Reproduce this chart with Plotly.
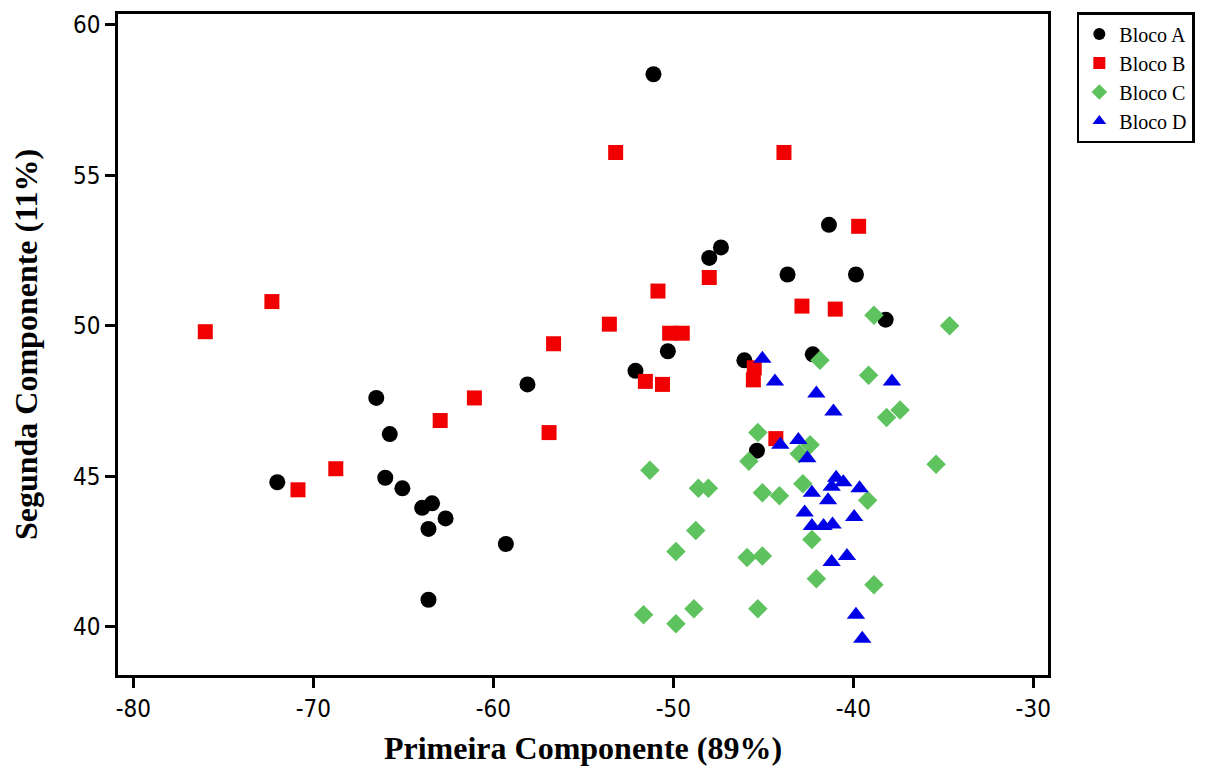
import plotly.graph_objects as go

# Bloco A (black circles)
a_x = [-51.1, -47.35, -48.0, -41.35, -43.65, -39.85, -38.2, -66.5, -65.75, -72.0, -66.0, -65.05,
       -63.95, -63.4, -62.65, -63.6, -63.6, -59.3, -58.1, -50.3, -52.1, -46.05, -45.35, -42.25]
a_y = [58.35, 52.6, 52.25, 53.35, 51.7, 51.7, 50.2, 47.6, 46.4, 44.8, 44.95, 44.6,
       43.95, 44.1, 43.6, 43.25, 40.9, 42.75, 48.05, 49.15, 48.5, 48.85, 45.85, 49.05]

# Bloco B (red squares)
b_x = [-72.3, -76.0, -53.2, -43.85, -39.7, -48.0, -50.85, -42.85, -41.0, -53.55, -50.2, -49.5,
       -56.65, -61.05, -62.95, -68.75, -70.85, -56.9, -51.55, -50.6, -45.5, -45.55, -44.3]
b_y = [50.8, 49.8, 55.75, 55.75, 53.3, 51.6, 51.15, 50.65, 50.55, 50.05, 49.75, 49.75,
       49.4, 47.6, 46.85, 45.25, 44.55, 46.45, 48.15, 48.05, 48.6, 48.2, 46.25]

# Bloco C (green diamonds)
c_x = [-38.85, -34.65, -45.3, -45.8, -51.3, -48.6, -48.05, -45.05, -44.1, -48.75, -49.85, -45.9,
       -45.05, -51.65, -49.85, -48.85, -45.3, -41.85, -39.15, -38.15, -37.4, -35.4, -42.4, -43.0,
       -42.8, -39.2, -42.3, -42.05, -38.85]
c_y = [50.35, 50.0, 46.45, 45.5, 45.2, 44.6, 44.6, 44.45, 44.35, 43.2, 42.5, 42.3,
       42.35, 40.4, 40.1, 40.6, 40.6, 48.85, 48.35, 46.95, 47.2, 45.4, 46.05, 45.75,
       44.75, 44.2, 42.9, 41.6, 41.4]

# Bloco D (blue triangles)
d_x = [-45.05, -44.35, -37.85, -42.05, -41.1, -44.05, -43.05, -42.55, -40.95, -40.55, -41.2, -39.65,
       -42.3, -41.4, -42.7, -39.95, -42.3, -41.65, -41.15, -40.35, -41.2, -39.85, -39.5]
d_y = [48.9, 48.15, 48.15, 47.75, 47.15, 46.05, 46.2, 45.6, 44.95, 44.8, 44.65, 44.6,
       44.45, 44.2, 43.8, 43.65, 43.35, 43.35, 43.4, 42.35, 42.15, 40.4, 39.6]

x_ticks = [-80, -70, -60, -50, -40, -30]
x_tick_text = ["-80", "-70", "-60", "-50", "-40", "-30"]
y_ticks = [40, 45, 50, 55, 60]
y_tick_text = ["40", "45", "50", "55", "60"]

series = [
    ("Bloco A", a_x, a_y, "circle", "#000000", 16),
    ("Bloco B", b_x, b_y, "square", "#F00000", 15),
    ("Bloco C", c_x, c_y, "diamond", "#5EC25E", 15),
    ("Bloco D", d_x, d_y, "triangle-up", "#0000E6", 16),
]

fig = go.Figure()
for name, xs, ys, sym, col, sz in series:
    fig.add_trace(go.Scatter(
        x=xs, y=ys, mode="markers", name=name,
        marker=dict(symbol=sym, color=col, size=sz, line=dict(width=0)),
    ))

tick_font = dict(family="Liberation Sans Narrow, DejaVu Sans Condensed, Arial Narrow, sans-serif",
                 size=24, color="#000000")
title_font = dict(family="Liberation Serif, Times New Roman, serif", size=32, color="#000000")

fig.update_layout(
    width=1224, height=778,
    margin=dict(l=118, r=176, t=12, b=103),
    paper_bgcolor="white", plot_bgcolor="white",
    showlegend=True,
    legend=dict(
        x=1.031, y=1.003, xanchor="left", yanchor="top",
        bordercolor="#000000", borderwidth=2.5, bgcolor="white",
        font=dict(family="Liberation Serif, Times New Roman, serif", size=20, color="#000000"),
        itemsizing="constant",
    ),
    xaxis=dict(
        range=[-80.85, -29.18], tickvals=x_ticks, ticktext=x_tick_text,
        showgrid=False, zeroline=False,
        showline=True, linecolor="#000000", linewidth=2.5, mirror=True,
        ticks="outside", ticklen=10, tickwidth=2.5, tickcolor="#000000",
        tickfont=tick_font,
        title=dict(text="<b>Primeira Componente (89%)</b>", font=title_font, standoff=16),
    ),
    yaxis=dict(
        range=[38.40, 60.35], tickvals=y_ticks, ticktext=y_tick_text,
        showgrid=False, zeroline=False,
        showline=True, linecolor="#000000", linewidth=2.5, mirror=True,
        ticks="outside", ticklen=10, tickwidth=2.5, tickcolor="#000000",
        tickfont=tick_font,
        title=dict(text="<b>Segunda Componente (11%)</b>", font=title_font, standoff=26),
    ),
)

fig.write_html("out.html")
